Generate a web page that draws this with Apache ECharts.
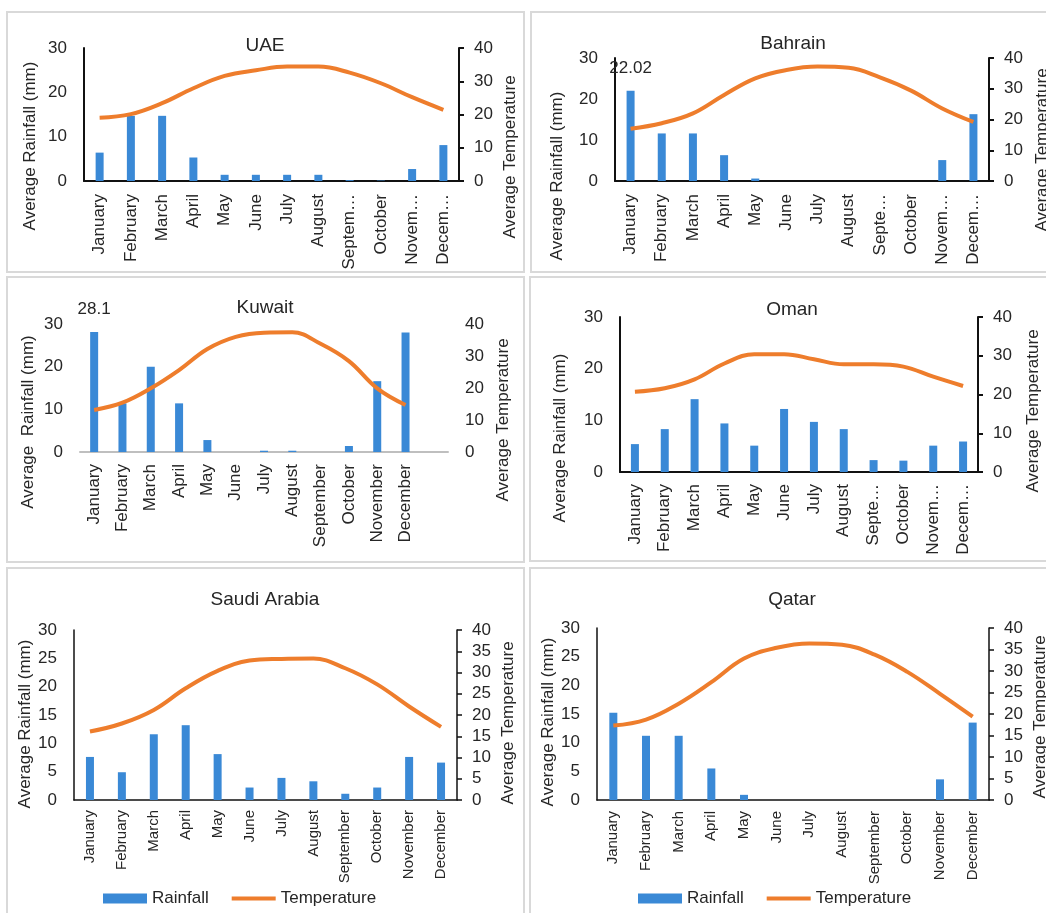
<!DOCTYPE html>
<html>
<head>
<meta charset="utf-8">
<script src="https://cdn.jsdelivr.net/npm/echarts@6/dist/echarts.min.js"></script>
<style>
html, body { margin: 0; padding: 0; background: #fff; }
#chart { width: 1046px; height: 913px; }
</style>
</head>
<body>
<div id="chart"></div>
<script>
// Month categories and the tick labels shown under each panel
const months = ['January', 'February', 'March', 'April', 'May', 'June', 'July', 'August', 'September', 'October', 'November', 'December'];
const labelsUAE = ['January', 'February', 'March', 'April', 'May', 'June', 'July', 'August', 'Septem…', 'October', 'Novem…', 'Decem…'];
const labelsShort = ['January', 'February', 'March', 'April', 'May', 'June', 'July', 'August', 'Septe…', 'October', 'Novem…', 'Decem…'];
const labelsKuwait = months.concat(['']); // Kuwait's axis keeps one empty slot after December

// Average monthly rainfall (mm)
const rainUAE     = [6.4, 14.7, 14.7, 5.3, 1.4, 1.4, 1.4, 1.4, 0.2, 0.1, 2.7, 8.1];
const rainBahrain = [22.02, 11.6, 11.6, 6.3, 0.6, 0, 0, 0, 0, 0, 5.1, 16.3];
const rainKuwait  = [28.1, 11.4, 20.0, 11.4, 2.8, 0, 0.3, 0.3, 0, 1.4, 16.6, 28.0];
const rainOman    = [5.4, 8.3, 14.1, 9.4, 5.1, 12.2, 9.7, 8.3, 2.3, 2.2, 5.1, 5.9];
const rainSaudi   = [7.6, 4.9, 11.6, 13.2, 8.1, 2.2, 3.9, 3.3, 1.1, 2.2, 7.6, 6.6];
const rainQatar   = [15.2, 11.2, 11.2, 5.5, 0.9, 0, 0, 0, 0, 0, 3.6, 13.5];

// Average monthly temperature
const tempUAE     = [19.0, 20.1, 23.4, 27.9, 31.6, 33.3, 34.4, 34.4, 32.6, 29.4, 25.2, 21.4];
const tempBahrain = [17.0, 18.8, 22.0, 28.0, 33.4, 36.1, 37.2, 36.8, 33.7, 29.4, 23.6, 19.2];
const tempKuwait  = [13.1, 15.4, 19.9, 25.6, 32.2, 36.0, 37.3, 37.4, 33.8, 28.4, 19.9, 14.7];
const tempOman    = [20.7, 21.6, 23.9, 28.0, 30.4, 30.4, 29.1, 27.8, 27.8, 27.2, 24.6, 22.2];
const tempSaudi   = [16.1, 18.0, 21.2, 26.3, 30.4, 32.8, 33.2, 33.3, 31.0, 27.2, 22.0, 17.2];
const tempQatar   = [17.3, 18.7, 22.4, 27.4, 32.9, 35.4, 36.4, 36.1, 33.8, 29.8, 24.7, 19.4];

const BLUE = '#3a89d6';
const ORANGE = '#ee7d2c';
const TEXT = '#262626';
const FONT = '"Liberation Sans", Arial, sans-serif';

// Layout of each country panel
const panels = [
  { title: 'UAE', tx: 265, ty: 47, rain: rainUAE, temp: tempUAE, labels: labelsUAE,
    grid: { left: 84, top: 48, width: 375, height: 133 }, step: 10, frame: [7, 12, 517, 260],
    style: 'dark', xFont: 17, xMargin: 13, leftName: 'Average Rainfall (mm)', ln: [30, 146], rn: [510, 157], valueLabel: -1 },
  { title: 'Bahrain', tx: 793, ty: 45, rain: rainBahrain, temp: tempBahrain, labels: labelsShort,
    grid: { left: 615, top: 58, width: 374, height: 123 }, step: 10, frame: [531, 12, 530, 260],
    style: 'dark', xFont: 17, xMargin: 13, leftName: 'Average Rainfall (mm)', ln: [557, 176], rn: [1042, 150], valueLabel: 0 },
  { title: 'Kuwait', tx: 265, ty: 309, rain: rainKuwait, temp: tempKuwait, labels: labelsKuwait,
    grid: { left: 80, top: 324, width: 368, height: 128 }, step: 10, frame: [7, 277, 517, 285],
    style: 'light', xFont: 17, xMargin: 12, leftName: 'Average  Rainfall (mm)', ln: [28, 422], rn: [503, 420], valueLabel: 0 },
  { title: 'Oman', tx: 792, ty: 311, rain: rainOman, temp: tempOman, labels: labelsShort,
    grid: { left: 620, top: 317, width: 358, height: 155 }, step: 10, frame: [530, 277, 530, 284],
    style: 'dark', xFont: 17, xMargin: 12, leftName: 'Average Rainfall (mm)', ln: [560, 438], rn: [1033, 411], valueLabel: -1 },
  { title: 'Saudi Arabia', tx: 265, ty: 601, rain: rainSaudi, temp: tempSaudi, labels: months,
    grid: { left: 74, top: 630, width: 383, height: 170 }, step: 5, frame: [7, 568, 517, 360],
    style: 'thin', xFont: 15, xMargin: 10, leftName: 'Average Rainfall (mm)', ln: [25, 724], rn: [508, 723], valueLabel: -1 },
  { title: 'Qatar', tx: 792, ty: 601, rain: rainQatar, temp: tempQatar, labels: months,
    grid: { left: 597, top: 628, width: 392, height: 172 }, step: 5, frame: [530, 568, 530, 360],
    style: 'thin', xFont: 15, xMargin: 11, leftName: 'Average Rainfall (mm)', ln: [548, 722], rn: [1040, 717], valueLabel: -1 }
];

const option = {
  backgroundColor: '#fff',
  animation: false,
  textStyle: { fontFamily: FONT, color: TEXT },
  title: [], grid: [], xAxis: [], yAxis: [], series: [], graphic: [],
  legend: []
};

panels.forEach((p, i) => {
  const axisColor = p.style === 'light' ? '#bfbfbf' : '#111';
  const axisWidth = p.style === 'thin' ? 1.5 : 2;
  const showY = p.style !== 'light';

  option.graphic.push({
    type: 'rect', silent: true, z: -10,
    shape: { x: p.frame[0], y: p.frame[1], width: p.frame[2], height: p.frame[3] },
    style: { fill: 'none', stroke: '#d9d9d9', lineWidth: 2 }
  });

  option.title.push({
    text: p.title, left: p.tx, top: p.ty - 11, textAlign: 'center', padding: 0,
    textStyle: { fontFamily: FONT, fontSize: 19, fontWeight: 'normal', color: TEXT }
  });

  option.grid.push(Object.assign({ containLabel: false }, p.grid));

  option.xAxis.push({
    type: 'category', gridIndex: i, data: p.labels,
    axisLine: { show: true, lineStyle: { color: axisColor, width: axisWidth } },
    axisTick: { show: false },
    axisLabel: { rotate: 90, interval: 0, margin: p.xMargin, fontSize: p.xFont, color: TEXT, fontFamily: FONT }
  });

  option.yAxis.push({
    type: 'value', gridIndex: i, position: 'left', min: 0, max: 30, interval: p.step,
    splitLine: { show: false },
    axisLine: { show: showY, lineStyle: { color: '#111', width: axisWidth } },
    axisTick: { show: false },
    axisLabel: { margin: 17, fontSize: 17, color: TEXT, fontFamily: FONT }
  });
  option.yAxis.push({
    type: 'value', gridIndex: i, position: 'right', min: 0, max: 40, interval: p.step,
    splitLine: { show: false },
    axisLine: { show: showY, lineStyle: { color: '#111', width: axisWidth } },
    axisTick: { show: showY, inside: false, length: 5, lineStyle: { color: '#111', width: axisWidth } },
    axisLabel: { margin: showY ? 15 : 17, fontSize: 17, color: TEXT, fontFamily: FONT }
  });

  const barData = p.rain.map((v, k) => k === p.valueLabel
    ? { value: v, label: { show: true, position: 'top', distance: 14, fontSize: 17, color: TEXT, fontFamily: FONT, formatter: String(v) } }
    : v);

  option.series.push({
    name: 'Rainfall', type: 'bar', xAxisIndex: i, yAxisIndex: i * 2,
    data: barData, barWidth: 8, itemStyle: { color: BLUE }, z: 2
  });
  option.series.push({
    name: 'Temperature', type: 'line', xAxisIndex: i, yAxisIndex: i * 2 + 1,
    data: p.temp, smooth: 0.4, symbol: 'none', z: 3,
    lineStyle: { color: ORANGE, width: 4 }, itemStyle: { color: ORANGE }
  });

  // Rotated axis titles
  [[p.leftName, p.ln], ['Average Temperature', p.rn]].forEach(([txt, pos]) => {
    option.graphic.push({
      type: 'text', x: pos[0], y: pos[1], rotation: Math.PI / 2, silent: true,
      style: {
        text: txt, fill: TEXT, font: '17px ' + FONT,
        align: 'center', verticalAlign: 'middle',
        textAlign: 'center', textVerticalAlign: 'middle'
      }
    });
  });
});

// Legends under the two bottom panels
[103, 638].forEach(x => {
  option.legend.push({
    left: x, top: 890, itemWidth: 44, itemHeight: 10, itemGap: 21, padding: 0,
    data: [
      { name: 'Rainfall', icon: 'rect' },
      { name: 'Temperature', itemStyle: { opacity: 0 }, lineStyle: { width: 4, color: ORANGE } }
    ],
    textStyle: { fontFamily: FONT, fontSize: 17, color: TEXT },
    selectedMode: false
  });
});

const chart = echarts.init(document.getElementById('chart'), null, { renderer: 'canvas' });
chart.setOption(option);
</script>
</body>
</html>
